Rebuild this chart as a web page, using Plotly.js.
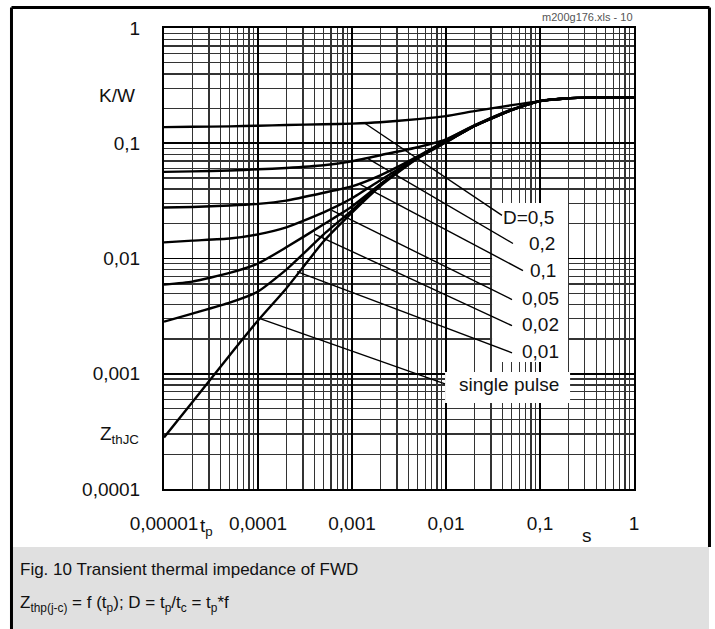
<!DOCTYPE html>
<html>
<head>
<meta charset="utf-8">
<script src="https://cdn.plot.ly/plotly-3.0.1.min.js"></script>
<style>
html,body{margin:0;padding:0;background:#fff;}
#chart{width:715px;height:629px;}
</style>
</head>
<body>
<div id="chart"></div>
<script>
// ---- data (t_p in s, Z_th in K/W) ----
const tp = [1e-5, 2e-5, 5e-5, 1e-4, 2e-4, 5e-4, 1e-3, 2e-3, 5e-3, 1e-2, 2e-2, 5e-2, 0.1, 0.2, 0.5, 1];
const zD05 = [0.138, 0.139, 0.140, 0.142, 0.144, 0.146, 0.148, 0.152, 0.162, 0.172, 0.190, 0.214, 0.232, 0.246, 0.25, 0.25];
const zD02 = [0.0565, 0.057, 0.058, 0.0594, 0.061, 0.0644, 0.0697, 0.0787, 0.0923, 0.108, 0.143, 0.197, 0.233, 0.246, 0.25, 0.25];
const zD01 = [0.0277, 0.028, 0.0288, 0.0298, 0.0318, 0.0372, 0.0423, 0.0527, 0.077, 0.106, 0.142, 0.196, 0.232, 0.246, 0.25, 0.25];
const zD005 = [0.0138, 0.0143, 0.0149, 0.0162, 0.0186, 0.0251, 0.0333, 0.0477, 0.0756, 0.104, 0.141, 0.195, 0.232, 0.246, 0.25, 0.25];
const zD002 = [0.00594, 0.0063, 0.0075, 0.00905, 0.0125, 0.0198, 0.0283, 0.0441, 0.0748, 0.103, 0.141, 0.194, 0.232, 0.246, 0.25, 0.25];
const zD001 = [0.00283, 0.00333, 0.00414, 0.00517, 0.0080, 0.0162, 0.0262, 0.0436, 0.0745, 0.1025, 0.141, 0.194, 0.232, 0.246, 0.25, 0.25];
const zSingle = [0.00028, 0.000567, 0.00145, 0.0029, 0.0055, 0.0141, 0.025, 0.0425, 0.074, 0.102, 0.141, 0.194, 0.232, 0.246, 0.25, 0.25];

const curveNames = ['D=0,5', '0,2', '0,1', '0,05', '0,02', '0,01', 'single pulse'];
const curveValues = [zD05, zD02, zD01, zD005, zD002, zD001, zSingle];

// leader lines: from a point on each curve to its label
const leaderFromX = [1.37e-3, 1.48e-3, 1.22e-3, 6.12e-4, 4.04e-4, 2.60e-4, 1.05e-4];
const leaderFromY = [0.149, 0.0735, 0.0440, 0.0262, 0.0162, 0.0077, 0.00301];
const leaderToX = [0.0394, 0.0516, 0.0659, 0.0504, 0.0504, 0.0504, 0.00975];
const leaderToY = [0.0237, 0.0135, 0.00786, 0.0044, 0.00261, 0.00152, 0.000818];
const labelX = [0.148, 0.152, 0.156, 0.167, 0.167, 0.167, 0.167];
const labelY = [0.0228, 0.0135, 0.0079, 0.0045, 0.0027, 0.00155, 0.00081];

const xTickVals = [1e-5, 1e-4, 1e-3, 1e-2, 1e-1, 1];
const xTickText = ['0,00001', '0,0001', '0,001', '0,01', '0,1', '1'];
const yTickVals = [1e-4, 1e-3, 1e-2, 1e-1, 1];
const yTickText = ['0,0001', '0,001', '0,01', '0,1', '1'];

const X_RANGE = [-5, 0], Y_RANGE = [-4, 0];

function minorVals(fromExp, toExp) {
  const v = [];
  for (let e = fromExp; e < toExp; e++) for (let m = 2; m <= 9; m++) v.push(m * Math.pow(10, e));
  return v;
}
// white background boxes behind labels, given as fractions of the plot area
function domainBox(fx0, fx1, fy0, fy1) {
  const X = f => Math.pow(10, X_RANGE[0] + (X_RANGE[1] - X_RANGE[0]) * f);
  const Y = f => Math.pow(10, Y_RANGE[0] + (Y_RANGE[1] - Y_RANGE[0]) * f);
  return {x: [X(fx0), X(fx1), X(fx1), X(fx0), X(fx0)], y: [Y(fy0), Y(fy0), Y(fy1), Y(fy1), Y(fy0)],
    type: 'scatter', mode: 'lines', fill: 'toself', fillcolor: '#fff', line: {width: 0, color: 'rgba(0,0,0,0)'},
    hoverinfo: 'skip', showlegend: false};
}

const FONT = '"Liberation Sans", Arial, Helvetica, sans-serif';
const traces = [domainBox(0.698, 0.8596, 0.2755, 0.6204), domainBox(0.598, 0.864, 0.1866, 0.2538)];
curveValues.forEach((z, i) => {
  traces.push({x: tp, y: z, type: 'scatter', mode: 'lines', name: curveNames[i],
    line: {color: '#000', width: 2.4, shape: 'spline', smoothing: 0.5}, hoverinfo: 'skip'});
});
leaderFromX.forEach((x0, i) => {
  traces.push({x: [x0, leaderToX[i]], y: [leaderFromY[i], leaderToY[i]], type: 'scatter', mode: 'lines',
    line: {color: '#000', width: 1.4}, hoverinfo: 'skip', showlegend: false});
});

const annotations = [];
curveNames.forEach((t, i) => {
  annotations.push({x: Math.log10(labelX[i]), y: Math.log10(labelY[i]), xref: 'x', yref: 'y',
    text: t, showarrow: false, xanchor: 'right', yanchor: 'middle',
    font: {family: FONT, size: 19, color: '#111'}});
});
annotations.push(
  {xref: 'paper', yref: 'paper', x: -0.057, y: 0.8525, text: 'K/W', showarrow: false, xanchor: 'right', yanchor: 'middle', font: {family: FONT, size: 19, color: '#111'}},
  {xref: 'paper', yref: 'paper', x: -0.05, y: 0.118, text: 'Z<sub>thJC</sub>', showarrow: false, xanchor: 'right', yanchor: 'middle', font: {family: FONT, size: 19, color: '#111'}},
  {xref: 'paper', yref: 'paper', x: 0.072, y: -0.083, text: 't<sub>p</sub>', showarrow: false, xanchor: 'left', yanchor: 'middle', font: {family: FONT, size: 19, color: '#111'}},
  {xref: 'paper', yref: 'paper', x: 0.9, y: -0.1, text: 's', showarrow: false, xanchor: 'center', yanchor: 'middle', font: {family: FONT, size: 19, color: '#111'}},
  {xref: 'paper', yref: 'paper', x: 1.002, y: 1.024, text: 'm200g176.xls - 10', showarrow: false, xanchor: 'right', yanchor: 'middle', font: {family: FONT, size: 11, color: '#555'}},
  {xref: 'paper', yref: 'paper', x: -0.311, y: -0.1757, text: 'Fig. 10 Transient thermal impedance of FWD', showarrow: false, xanchor: 'left', yanchor: 'middle', font: {family: FONT, size: 17, color: '#111'}},
  {xref: 'paper', yref: 'paper', x: -0.311, y: -0.2495, text: 'Z<sub>thp(j-c)</sub> = f (t<sub>p</sub>); D = t<sub>p</sub>/t<sub>c</sub> = t<sub>p</sub>*f', showarrow: false, xanchor: 'left', yanchor: 'middle', font: {family: FONT, size: 17, color: '#111'}}
);

const shapes = [
  // caption background
  {type: 'rect', xref: 'paper', yref: 'paper', x0: -0.3213, x1: 1.1596, y0: -0.32, y1: -0.1258, fillcolor: '#e0e0e0', line: {width: 0}, layer: 'below'},
  // outer frame
  {type: 'line', xref: 'paper', yref: 'paper', x0: -0.3245, x1: 1.1606, y0: 1.0445, y1: 1.0445, line: {color: '#000', width: 3}},
  {type: 'line', xref: 'paper', yref: 'paper', x0: -0.3245, x1: -0.3245, y0: 1.0445, y1: -0.32, line: {color: '#000', width: 3}},
  {type: 'line', xref: 'paper', yref: 'paper', x0: 1.1606, x1: 1.1606, y0: 1.0445, y1: -0.1258, line: {color: '#000', width: 3}}
];

const axisCommon = {
  type: 'log', showgrid: true, gridcolor: '#000', gridwidth: 1.6,
  showline: true, mirror: true, linecolor: '#000', linewidth: 2,
  ticks: '', zeroline: false, tickmode: 'array',
  tickfont: {family: FONT, size: 19, color: '#111'}
};

const layout = {
  width: 715, height: 629,
  margin: {l: 164, r: 81, t: 28, b: 140, pad: 0},
  paper_bgcolor: '#fff', plot_bgcolor: '#fff',
  showlegend: false,
  xaxis: Object.assign({}, axisCommon, {
    range: X_RANGE, tickvals: xTickVals, ticktext: xTickText, ticklabelstandoff: 16,
    minor: {tickmode: 'array', tickvals: minorVals(-5, 0), showgrid: true, gridcolor: '#333', gridwidth: 1.3, ticks: ''}
  }),
  yaxis: Object.assign({}, axisCommon, {
    range: Y_RANGE, tickvals: yTickVals, ticktext: yTickText, ticklabelstandoff: 18,
    minor: {tickmode: 'array', tickvals: minorVals(-4, 0), showgrid: true, gridcolor: '#333', gridwidth: 1.3, ticks: ''}
  }),
  annotations: annotations,
  shapes: shapes
};

Plotly.newPlot('chart', traces, layout, {staticPlot: true, displayModeBar: false});
</script>
</body>
</html>
